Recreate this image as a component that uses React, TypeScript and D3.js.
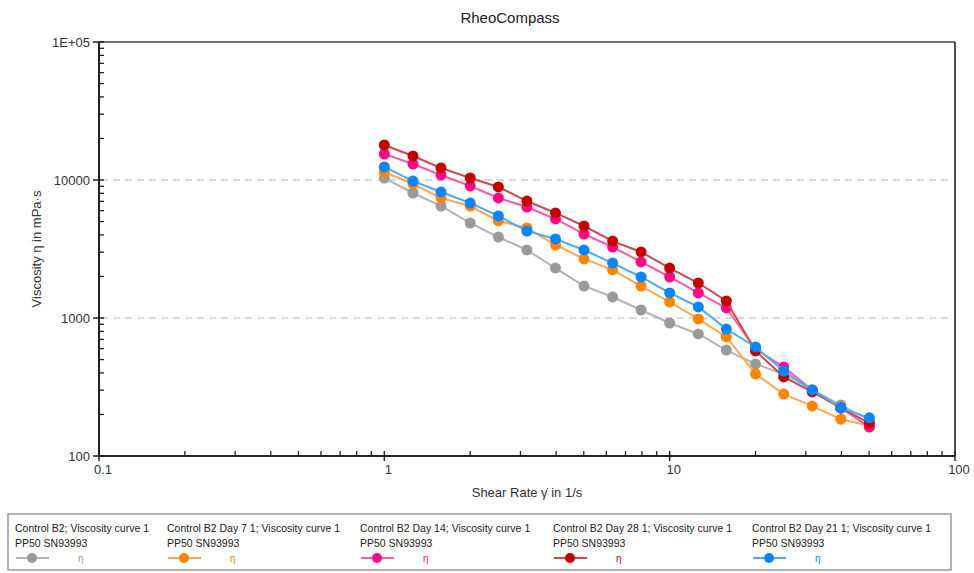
import React from 'react'
import * as d3 from 'd3'

// shear rate points (1/s)
const shearRate = [1, 1.26, 1.58, 2, 2.51, 3.16, 3.98, 5.01, 6.31, 7.94, 10, 12.6, 15.8, 20, 25.1, 31.6, 39.8, 50.1]

// viscosity in mPa·s
const controlB2 = [10340, 8050, 6480, 4880, 3860, 3110, 2300, 1705, 1420, 1143, 920, 766, 586, 464, 393, 301, 234, 182]
const day7 = [11430, 9360, 7410, 6480, 5050, 4490, 3380, 2680, 2230, 1705, 1306, 984, 729, 393, 281, 230, 185, 165]
const day14 = [15430, 13060, 10870, 9050, 7410, 6370, 5220, 4060, 3270, 2550, 1982, 1518, 1182, 596, 441, 301, 223, 162]
const day28 = [17930, 14930, 12220, 10340, 8900, 7040, 5770, 4640, 3610, 3010, 2300, 1793, 1328, 577, 374, 291, 223, 173]
const day21 = [12430, 9830, 8190, 6810, 5490, 4270, 3740, 3110, 2500, 1982, 1518, 1202, 832, 617, 413, 301, 223, 189]

const seriesNames = [
  'Control B2; Viscosity curve 1',
  'Control B2 Day 7 1; Viscosity curve 1',
  'Control B2 Day 14; Viscosity curve 1',
  'Control B2 Day 28 1; Viscosity curve 1',
  'Control B2 Day 21 1; Viscosity curve 1',
]
const seriesValues = [controlB2, day7, day14, day28, day21]
const markerColors = ['#9a9a9a', '#ff8400', '#ff0a84', '#c40000', '#0a84ff']
const lineColors = ['#b4b4b4', '#ffa850', '#ff5aa5', '#d04848', '#4aa8ff']

const xTickLabels = ['0.1', '1', '10', '100']
const yTickLabels = ['100', '1000', '10000', '1E+05']

const font = '"Liberation Sans", Arial, sans-serif'

const margin = { top: 42, left: 99, right: 955, bottom: 456 }

const App = () => {
  const x = d3.scaleLog().domain([0.1, 100]).range([margin.left, margin.right])
  const y = d3.scaleLog().domain([100, 100000]).range([margin.bottom, margin.top])

  const line = d3
    .line<number>()
    .x((d, i) => x(shearRate[i]))
    .y((d) => y(d))

  const decadesX = [0.1, 1, 10, 100]
  const decadesY = [100, 1000, 10000, 100000]
  const minorX: number[] = []
  decadesX.slice(0, 3).forEach((d) => {
    for (let k = 2; k < 10; k++) minorX.push(d * k)
  })
  const minorY: number[] = []
  decadesY.slice(0, 3).forEach((d) => {
    for (let k = 2; k < 10; k++) minorY.push(d * k)
  })

  const legendX = [15, 167, 360, 553, 752]

  return (
    <svg width={974} height={573} style={{ display: 'block', position: 'absolute', left: 0, top: 0 }} fontFamily={font}>
      <rect x={0} y={0} width={974} height={573} fill="#fff" />
      <text x={510} y={23} textAnchor="middle" fontSize={15} fill="#222">
        RheoCompass
      </text>

      {/* grid */}
      {[1000, 10000].map((v) => (
        <line
          key={v}
          x1={margin.left + 2}
          x2={margin.right - 2}
          y1={y(v)}
          y2={y(v)}
          stroke="#cfcfcf"
          strokeWidth={1.5}
          strokeDasharray="7,5"
        />
      ))}

      {/* frame */}
      <line x1={margin.left} x2={margin.right} y1={margin.top} y2={margin.top} stroke="#707070" strokeWidth={2} />
      <line x1={margin.right} x2={margin.right} y1={margin.top} y2={margin.bottom} stroke="#505050" strokeWidth={2} />
      <line x1={margin.left} x2={margin.left} y1={margin.top} y2={margin.bottom} stroke="#222" strokeWidth={2} />
      <line x1={margin.left} x2={margin.right} y1={margin.bottom} y2={margin.bottom} stroke="#222" strokeWidth={2} />

      {/* y ticks */}
      {decadesY.map((v, i) => (
        <g key={'yt' + v}>
          <line x1={margin.left - 6} x2={margin.left + 5} y1={y(v)} y2={y(v)} stroke="#222" strokeWidth={1.5} />
          <text x={margin.left - 9} y={y(v)} dy="0.35em" textAnchor="end" fontSize={13} fill="#333">
            {yTickLabels[i]}
          </text>
        </g>
      ))}
      {minorY.map((v) => (
        <line key={'ym' + v} x1={margin.left} x2={margin.left + 5} y1={y(v)} y2={y(v)} stroke="#222" strokeWidth={1.3} />
      ))}

      {/* x ticks */}
      {decadesX.map((v, i) => (
        <g key={'xt' + v}>
          <line x1={x(v)} x2={x(v)} y1={margin.bottom - 5} y2={margin.bottom + 5} stroke="#222" strokeWidth={1.5} />
          <text x={x(v) + 4} y={margin.bottom + 18} textAnchor="middle" fontSize={13} fill="#333">
            {xTickLabels[i]}
          </text>
        </g>
      ))}
      {minorX.map((v) => (
        <line key={'xm' + v} x1={x(v)} x2={x(v)} y1={margin.bottom - 5} y2={margin.bottom} stroke="#222" strokeWidth={1.3} />
      ))}

      {/* axis titles */}
      <text x={527} y={497} textAnchor="middle" fontSize={13} fill="#333">
        Shear Rate γ̇ in 1/s
      </text>
      <text transform={`translate(41,${(margin.top + margin.bottom) / 2}) rotate(-90)`} textAnchor="middle" fontSize={13} fill="#333">
        Viscosity  η  in mPa·s
      </text>

      {/* series */}
      {seriesValues.map((vals, s) => (
        <g key={'s' + s}>
          <path d={line(vals) || ''} fill="none" stroke={lineColors[s]} strokeWidth={2} />
          {vals.map((v, i) => (
            <circle key={i} cx={x(shearRate[i])} cy={y(v)} r={5.5} fill={markerColors[s]} />
          ))}
        </g>
      ))}

      {/* legend */}
      <rect x={8} y={514} width={943} height={56} fill="#fff" stroke="#999" strokeWidth={1.5} />
      {seriesNames.map((name, s) => (
        <g key={'l' + s} fontSize={10.5} fill="#222">
          <text x={legendX[s]} y={532}>
            {name}
          </text>
          <text x={legendX[s]} y={547}>
            PP50 SN93993
          </text>
          <line x1={legendX[s] + 1} x2={legendX[s] + 34} y1={558} y2={558} stroke={lineColors[s]} strokeWidth={2} />
          <circle cx={legendX[s] + 17} cy={558} r={5} fill={markerColors[s]} />
          <text x={legendX[s] + 63} y={562} fill={markerColors[s]} fontSize={10}>
            η
          </text>
        </g>
      ))}
    </svg>
  )
}

export default App
